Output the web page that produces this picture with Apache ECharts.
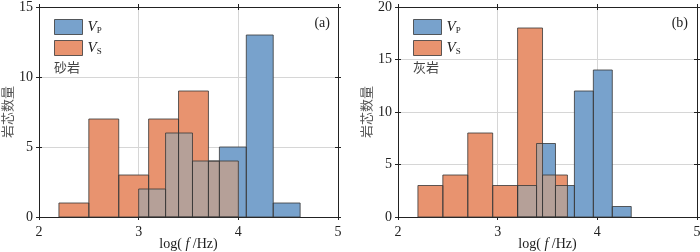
<!DOCTYPE html>
<html>
<head>
<meta charset="utf-8">
<script src="https://cdn.jsdelivr.net/npm/echarts@6/dist/echarts.min.js"></script>
<style>
  html, body { margin: 0; padding: 0; background: #fff; }
  #chart { width: 700px; height: 252px; }
</style>
</head>
<body>
<div id="chart"></div>
<script>
// (a) 砂岩
const vsEdgesA = [2.2, 2.5, 2.8, 3.1, 3.4, 3.7, 4.0];
const vsCountsA = [1, 7, 3, 7, 9, 4];
const vpEdgesA = [3.0, 3.27, 3.54, 3.81, 4.08, 4.35, 4.62];
const vpCountsA = [2, 6, 4, 5, 13, 1];
// (b) 灰岩
const vsEdgesB = [2.2, 2.45, 2.7, 2.95, 3.2, 3.45, 3.7];
const vsCountsB = [3, 4, 8, 3, 18, 4];
const vpEdgesB = [3.2, 3.39, 3.58, 3.77, 3.96, 4.15, 4.34];
const vpCountsB = [3, 7, 3, 12, 14, 1];

const xMin = 2, xMax = 5, xStep = 1;
const yMax = [15, 20];
const yStep = 5;
const rockNames = ["砂岩", "灰岩"];
const panelTags = ["(a)", "(b)"];

const blue = "#78a2cc";
const orange = "#e8936f";
const mixed = "#b5a098";
const edge = "rgba(55, 55, 55, 0.8)";
const serif = "Liberation Serif";
const cjk = "Noto Sans CJK SC";

// 直方图 bin: [左边界, 右边界, 数量]
function toBins(edges, counts) {
  return counts.map((c, i) => [edges[i], edges[i + 1], c]);
}
// 两组重叠部分
function overlapBins(a, b) {
  const out = [];
  a.forEach(p => {
    b.forEach(q => {
      const lo = Math.max(p[0], q[0]);
      const hi = Math.min(p[1], q[1]);
      const h = Math.min(p[2], q[2]);
      if (hi > lo && h > 0) out.push([lo, hi, h]);
    });
  });
  return out;
}

function barItem(fill, stroke) {
  return function (params, api) {
    const p0 = api.coord([api.value(0), api.value(2)]);
    const p1 = api.coord([api.value(1), 0]);
    return {
      type: "rect",
      shape: { x: p0[0], y: p0[1], width: p1[0] - p0[0], height: p1[1] - p0[1] },
      style: { fill: fill, stroke: stroke, lineWidth: 1 }
    };
  };
}

const panels = [
  { vs: toBins(vsEdgesA, vsCountsA), vp: toBins(vpEdgesA, vpCountsA) },
  { vs: toBins(vsEdgesB, vsCountsB), vp: toBins(vpEdgesB, vpCountsB) }
];

const grids = [
  { left: 39, right: 362, top: 7, bottom: 35, outerBoundsMode: "none", containLabel: false },
  { left: 398, right: 3, top: 7, bottom: 35, outerBoundsMode: "none", containLabel: false }
];

const xAxes = [], yAxes = [], series = [], legends = [], titles = [];

panels.forEach((pn, i) => {
  const gx = grids[i];
  // x 轴: 主轴(下, 外刻度) + 下内刻度 + 上外 + 上内
  [["bottom", false], ["bottom", true], ["top", false], ["top", true]].forEach((s, k) => {
    const main = k === 0;
    xAxes.push({
      type: "value", gridIndex: i, position: s[0], min: xMin, max: xMax, interval: xStep,
      name: main ? "{n|log(}{f| f }{n|/Hz)}" : "",
      nameLocation: "middle", nameGap: 20, nameMoveOverlap: false,
      nameTextStyle: {
        rich: {
          n: { fontFamily: serif, fontSize: 14, color: "#222" },
          f: { fontFamily: serif, fontSize: 14, fontStyle: "italic", color: "#222" }
        }
      },
      axisLine: { show: true, onZero: false, lineStyle: { color: "#222", width: 1 } },
      axisTick: { show: true, inside: s[1], length: 3, lineStyle: { color: "#222" } },
      axisLabel: { show: main, margin: 8, fontFamily: serif, fontSize: 14, color: "#222" },
      splitLine: { show: main, lineStyle: { color: "#d6d6d6", width: 1 } }
    });
  });
  [["left", false], ["left", true], ["right", false], ["right", true]].forEach((s, k) => {
    const main = k === 0;
    yAxes.push({
      type: "value", gridIndex: i, position: s[0], min: 0, max: yMax[i], interval: yStep,
      name: main ? "岩芯数量" : "",
      nameLocation: "middle", nameGap: 25, nameRotate: 90, nameMoveOverlap: false,
      nameTextStyle: { fontFamily: cjk, fontSize: 13, color: "#555" },
      axisLine: { show: true, onZero: false, lineStyle: { color: "#222", width: 1 } },
      axisTick: { show: true, inside: s[1], length: 3, lineStyle: { color: "#222" } },
      axisLabel: { show: main, margin: 6, fontFamily: serif, fontSize: 14, color: "#222" },
      splitLine: { show: main, lineStyle: { color: "#d6d6d6", width: 1 } }
    });
  });

  const ax = { xAxisIndex: i * 4, yAxisIndex: i * 4, encode: { x: [0, 1], y: 2 } };
  const vpName = "VP" + i, vsName = "VS" + i;
  series.push(
    Object.assign({ type: "custom", name: vpName, data: pn.vp, renderItem: barItem(blue, null), itemStyle: { color: blue }, z: 2 }, ax),
    Object.assign({ type: "custom", name: vsName, data: pn.vs, renderItem: barItem(orange, null), itemStyle: { color: orange }, z: 2 }, ax),
    Object.assign({ type: "custom", name: "mix" + i, data: overlapBins(pn.vp, pn.vs), renderItem: barItem(mixed, null), z: 3 }, ax),
    Object.assign({ type: "custom", name: "vpEdge" + i, data: pn.vp, renderItem: barItem("none", edge), z: 4 }, ax),
    Object.assign({ type: "custom", name: "vsEdge" + i, data: pn.vs, renderItem: barItem("none", edge), z: 4 }, ax)
  );

  legends.push({
    orient: "vertical", left: gx.left + 15, top: 19, padding: 0,
    itemWidth: 28, itemHeight: 15, itemGap: 5, icon: "rect",
    data: [
      { name: vpName, itemStyle: { color: blue, borderColor: edge, borderWidth: 1 } },
      { name: vsName, itemStyle: { color: orange, borderColor: edge, borderWidth: 1 } }
    ],
    selectedMode: false,
    formatter: n => "{v|V}{s|" + n.charAt(1) + "}",
    textStyle: {
      rich: {
        v: { fontFamily: serif, fontStyle: "italic", fontSize: 15, color: "#222" },
        s: { fontFamily: serif, fontSize: 9, color: "#222", padding: [7, 0, 0, 0] }
      }
    }
  });

  titles.push(
    { text: rockNames[i], left: gx.left + 15, top: 61, padding: 0,
      textStyle: { fontFamily: cjk, fontSize: 13, fontWeight: "normal", color: "#444" } },
    { text: panelTags[i], right: (i === 0 ? 700 - 330 : 700 - 688), top: 16, padding: 0,
      textStyle: { fontFamily: serif, fontSize: 14, fontWeight: "normal", color: "#222" } }
  );
});

const chart = echarts.init(document.getElementById("chart"), null, { renderer: "canvas" });
chart.setOption({
  animation: false,
  backgroundColor: "#fff",
  title: titles,
  legend: legends,
  grid: grids,
  xAxis: xAxes,
  yAxis: yAxes,
  series: series
});
</script>
</body>
</html>
